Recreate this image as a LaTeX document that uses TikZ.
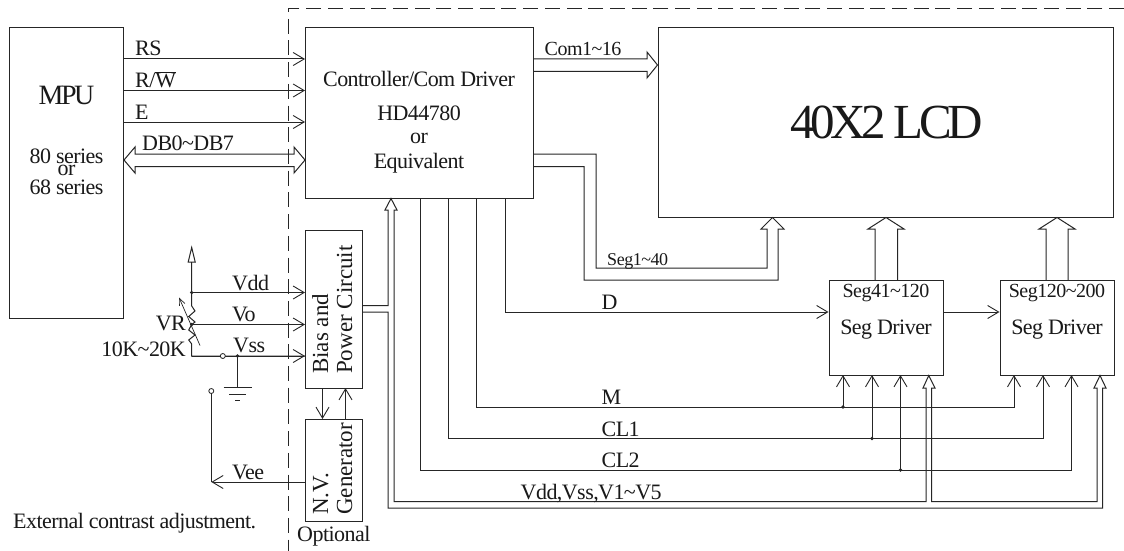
\documentclass[tikz,border=0pt]{standalone}
\usepackage{fontspec}
\setmainfont[LetterSpace=-2.5]{Liberation Serif}
\newfontfamily\tightfont[LetterSpace=-9]{Liberation Serif}
\newfontfamily\plainfont{Liberation Serif}
\usetikzlibrary{arrows.meta}
\newcommand\fsz[1]{\fontsize{#1}{#1}\selectfont}
\tikzset{
  wire/.style={draw=black!85,line width=1pt,line join=miter},
  arr/.style={wire,-{Straight Barb[length=11pt,width=13pt,line width=0.9pt]}},
  smallarr/.style={wire,-{Straight Barb[length=7pt,width=6pt,line width=0.7pt]}},
  blk/.style={draw=black!85,line width=1pt,inner sep=0pt},
  lab/.style={anchor=base west,inner sep=0pt,text=black!90,font=\fsz{22}},
  clab/.style={anchor=base,inner sep=0pt,text=black!90,font=\fsz{22}},
  rlab/.style={anchor=base east,inner sep=0pt,text=black!90,font=\fsz{22}},
  vlab/.style={anchor=base west,rotate=90,inner sep=0pt,text=black!90,font=\plainfont\fsz{23}},
  jdot/.style={circle,fill=black!85,inner sep=0pt,minimum size=3.6pt},
  odot/.style={circle,draw=black!85,fill=white,line width=0.8pt,inner sep=0pt,minimum size=5pt},
}
\begin{document}
\begin{tikzpicture}[x=1pt,y=-1pt]
\useasboundingbox (0,0) rectangle (1124,551);
\fill[white] (0,0) rectangle (1124,551);

% dashed module outline
\coordinate (dashbot) at (288,551);
\coordinate (dashcorner) at (288,8.5);
\coordinate (dashright) at (1124,8.5);
\draw[draw=black!85,line width=0.8pt,dash pattern=on 15pt off 6.7pt] (dashright) -- (dashcorner) -- (dashbot);

% blocks
\node[blk,minimum width=114pt,minimum height=290.5pt] (mpu) at (66.5,172.75) {};
\node[blk,minimum width=227.5pt,minimum height=170.5pt] (ctrl) at (419.25,112.75) {};
\node[blk,minimum width=455.5pt,minimum height=189.5pt] (lcd) at (885.75,122.25) {};
\node[blk,minimum width=57pt,minimum height=158pt] (bias) at (334,309) {};
\node[blk,minimum width=57pt,minimum height=102pt] (nv) at (334,470) {};
\node[blk,minimum width=114pt,minimum height=95pt] (sega) at (886,327.5) {};
\node[blk,minimum width=114pt,minimum height=95pt] (segb) at (1057,327.5) {};

% MPU to controller
\draw[arr] (mpu.east |- 0,59) -- (ctrl.west |- 0,59);
\draw[arr] (mpu.east |- 0,90.5) -- (ctrl.west |- 0,90.5);
\draw[arr] (mpu.east |- 0,122) -- (ctrl.west |- 0,122);
\draw[wire] (mpu.east |- 0,160) -- (135,147) -- (135,154) -- (294,154) -- (294,147)
  -- (ctrl.west |- 0,160) -- (294,173) -- (294,166.5) -- (135,166.5) -- (135,173) -- cycle;

% Com bus
\draw[wire] (ctrl.east |- 0,59) -- (647,59) -- (647,52) -- (lcd.west |- 0,65) -- (647,78) -- (647,71.5) -- (ctrl.east |- 0,71.5);

% Seg1~40 bus
\draw[wire] (ctrl.east |- 0,154) -- (596,154) -- (596,268) -- (767,268) -- (767,229) -- (761,229)
  -- (772.5,217.5) -- (784,229) -- (778,229) -- (778,280) -- (584,280) -- (584,166.5) -- (ctrl.east |- 0,166.5);

% Seg driver buses to LCD
\draw[wire] (875,280) -- (875,229) -- (868,229) -- (886,217.5) -- (904,229) -- (897.5,229) -- (897.5,280);
\draw[wire] (1046,280) -- (1046,229) -- (1039,229) -- (1057,217.5) -- (1075,229) -- (1068,229) -- (1068,280);

% D
\draw[arr] (505,198) -- (505,312) -- (sega.west |- 0,312);
\draw[arr] (sega.east |- 0,312) -- (segb.west |- 0,312);

% M, CL1, CL2
\draw[arr] (476.5,198) -- (476.5,407) -- (1014,407) -- (1014,375);
\draw[arr] (843,407) -- (843,375);
\node[jdot] (dm) at (843,407) {};
\draw[arr] (448,198) -- (448,438.5) -- (1043,438.5) -- (1043,375);
\draw[arr] (872,438.5) -- (872,375);
\node[jdot] (dc1) at (872,438.5) {};
\draw[arr] (420,198) -- (420,470) -- (1071.5,470) -- (1071.5,375);
\draw[arr] (900.5,470) -- (900.5,375);
\node[jdot] (dc2) at (900.5,470) {};

% Power bus
\draw[wire] (bias.east |- 0,305.5) -- (388,305.5) -- (388,210) -- (385,210) -- (391,198.5) -- (397,210) -- (394,210)
  -- (394,501.5) -- (926,501.5) -- (926,388) -- (923,388) -- (928.75,375.5) -- (935,388) -- (931.5,388)
  -- (931.5,501.5) -- (1097,501.5) -- (1097,388) -- (1094,388) -- (1100,375.5) -- (1106,388) -- (1102.5,388)
  -- (1102.5,508) -- (388,508) -- (388,312) -- (bias.east |- 0,312);

% Bias <-> NV
\draw[arr] (322.5,388) -- (322.5,419);
\draw[arr] (345.5,419) -- (345.5,388);

% Left supply network
\coordinate (rtop) at (191.7,262);
\draw[wire] (rtop) -- (191.7,306) -- (195,311) -- (188.7,316.5) -- (195,322) -- (191.7,324.5) -- (188.7,330)
  -- (195,335) -- (188.7,340) -- (191.7,344) -- (191.7,356) -- (bias.west |- 0,356);
\draw[wire] (188.2,262) -- (191.7,247.5) -- (195.2,262) -- cycle;
\draw[arr] (191.7,292.5) -- (bias.west |- 0,292.5);
\draw[arr] (191.7,324.5) -- (bias.west |- 0,324.5);
\draw[arr] (191.7,356) -- (bias.west |- 0,356);
\draw[smallarr,line width=0.7pt] (200,345.5) -- (179,297.5);
\node[jdot] (dvdd) at (191.7,292.5) {};
\node[jdot] (dvo) at (191.7,324.5) {};
\node[odot] (osw) at (222.8,356) {};
\draw[wire] (237.5,356) -- (237.5,387.7);
\node[jdot] (dvss) at (237.5,356) {};
\draw[draw=black!85,line width=1.1pt] (223.7,387.7) -- (251.5,387.7);
\draw[wire] (229,394.5) -- (246,394.5);
\draw[wire] (235,400.7) -- (240,400.7);
\node[odot] (ext) at (211.3,391) {};
\draw[arr] (nv.west |- 0,482) -- (211.3,482);
\draw[wire] (211.3,482) -- (ext);

% labels
\node[clab,font=\tightfont\fsz{28}] (tmpu) at (66.5,104) {MPU};
\node[clab] (t80) at (66.5,163) {80 series};
\node[clab] (tor) at (66.5,175.5) {or};
\node[clab] (t68) at (66.5,194) {68 series};
\node[lab] (trs) at (135,56) {RS};
\node[lab] (trw) at (135,88) {R/$\overline{\hbox{W}}$};
\node[lab] (te) at (135,119) {E};
\node[lab] (tdb) at (142,150) {DB0\char126 DB7};
\node[clab] (tc1) at (419,86.7) {Controller/Com Driver};
\node[clab] (tc2) at (419,120) {HD44780};
\node[clab] (tc3) at (419,143) {or};
\node[clab] (tc4) at (419,168.5) {Equivalent};
\node[lab,font=\fsz{20}] (tcom) at (544.5,56) {Com1\char126 16};
\node[clab,font=\tightfont\fsz{49}] (tlcd) at (886.5,138) {40X2 LCD};
\node[lab,font=\fsz{18}] (tseg) at (607,265.5) {Seg1\char126 40};
\node[lab] (td) at (601.5,309) {D};
\node[lab] (tm) at (601.5,404) {M};
\node[lab] (tcl1) at (601.5,436) {CL1};
\node[lab] (tcl2) at (601.5,467) {CL2};
\node[lab] (tv) at (520.5,499) {Vdd,Vss,V1\char126 V5};
\node[clab,font=\fsz{20}] (ts1) at (886,297) {Seg41\char126 120};
\node[clab,font=\fsz{20}] (ts2) at (1057,297) {Seg120\char126 200};
\node[clab] (td1) at (886,334) {Seg Driver};
\node[clab] (td2) at (1057,334) {Seg Driver};
\node[vlab] (tb1) at (328,374) {Bias and};
\node[vlab] (tb2) at (352,374) {Power Circuit};
\node[vlab] (tn1) at (328,515) {N.V.};
\node[vlab] (tn2) at (352,515) {Generator};
\node[lab] (tvdd) at (232,290) {Vdd};
\node[lab] (tvo) at (232,321.7) {Vo};
\node[lab] (tvss) at (233,352.7) {Vss};
\node[lab] (tvee) at (232,479) {Vee};
\node[rlab] (tvr) at (186,330) {VR};
\node[rlab] (tk) at (186,356) {10K\char126 20K};
\node[lab] (text) at (13,528) {External contrast adjustment.};
\node[lab] (topt) at (297,541.7) {Optional};
\end{tikzpicture}
\end{document}
